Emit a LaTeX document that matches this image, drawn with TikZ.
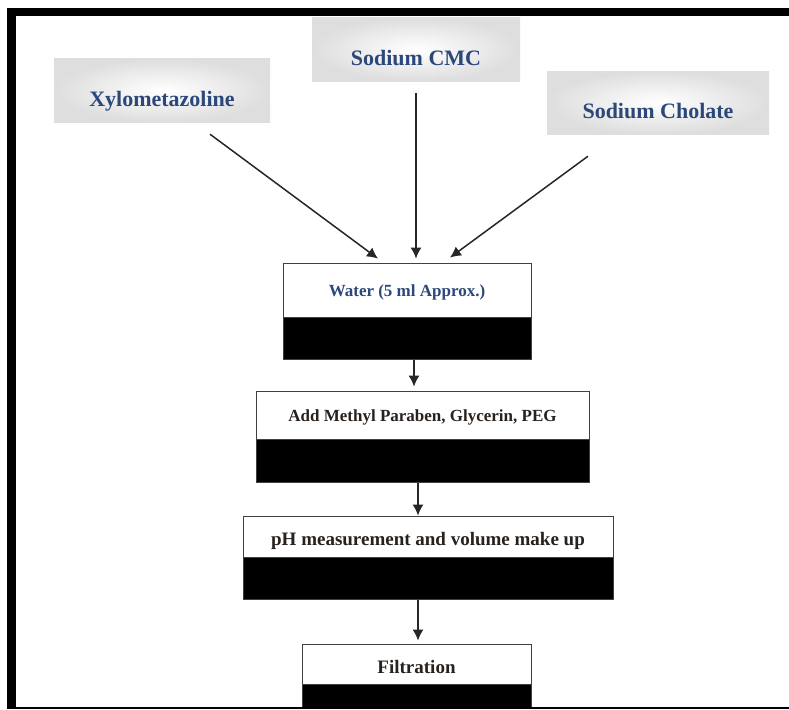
\documentclass[tikz,border=0pt]{standalone}
\usepackage{fontspec}
\setmainfont{Liberation Serif}
\usetikzlibrary{arrows.meta,positioning}
\definecolor{labelblue}{RGB}{44,72,122}
\definecolor{labeldark}{RGB}{40,34,30}

\begin{document}
\begin{tikzpicture}[
    x=1pt, y=-1pt,
    source/.style={shading=radial, inner color=white, outer color=gray!26,
        minimum height=63pt, inner sep=0pt, text height=31pt, text depth=0pt,
        font=\bfseries\fontsize{22}{24}\selectfont, text=labelblue},
    stepbox/.style={draw=black!75, line width=0.8pt, fill=white, inner sep=0pt,
        text height=1.6em, text depth=0.25em,
        font=\bfseries\fontsize{17}{19}\selectfont, text=labeldark},
    bigstep/.style={stepbox, text height=2.1em, font=\bfseries\fontsize{19}{21}\selectfont},
    barbox/.style={draw=black!75, line width=0.8pt, fill=black, inner sep=0pt},
    feed/.style={line width=1.5pt, black!85, -{Latex[length=11pt,width=11pt]}}
]
    % Define page size
    \def\pagewidth{789};
    \def\pageheight{709};
    \useasboundingbox (0,0) rectangle (\pagewidth,\pageheight);

    % Draw the three ingredients
    \node[source, minimum width=216pt] (xylo) at (162,90.5) {Xylometazoline};
    \node[source, minimum width=208pt] (cmc) at (416,49.5) {Sodium CMC};
    \node[source, minimum width=222pt] (cholate) at (658,102.5) {Sodium Cholate};

    % Draw the process steps, each with its black bar
    \node[stepbox, text=labelblue, minimum width=248pt, minimum height=54pt] (water) at (407,290) {Water (5 ml Approx.)};
    \node[barbox, minimum width=248pt, minimum height=42pt, below=0pt of water] (waterbar) {};

    \node[stepbox, minimum width=333pt, minimum height=48pt] (add) at (422.5,415) {Add Methyl Paraben, Glycerin, PEG};
    \node[barbox, minimum width=333pt, minimum height=43pt, below=0pt of add] (addbar) {};

    \node[bigstep, minimum width=370pt, minimum height=41pt] (ph) at (428,536.5) {pH measurement and volume make up};
    \node[barbox, minimum width=370pt, minimum height=42pt, below=0pt of ph] (phbar) {};

    \node[bigstep, minimum width=229pt, minimum height=40pt] (filt) at (416.5,664) {Filtration};
    \node[barbox, minimum width=229pt, minimum height=23pt, below=0pt of filt] (filtbar) {};

    % Arrows into the water
    \draw[feed] ([xshift=48pt,yshift=-12pt]xylo.south) -- ([xshift=-29pt,yshift=4pt]water.north);
    \draw[feed] ([yshift=-12pt]cmc.south) -- ([xshift=9pt,yshift=4pt]water.north);
    \draw[feed] ([xshift=-70pt,yshift=-22pt]cholate.south) -- ([xshift=43pt,yshift=5pt]water.north);

    % Arrows down the steps
    \foreach \a/\b/\sa/\sb/\gap in {waterbar/add/7/-8.5/4, addbar/ph/-4.5/-10/0, phbar/filt/-10/1.5/3} {
        \draw[feed] ([xshift=\sa pt]\a.south) -- ([xshift=\sb pt,yshift=\gap pt]\b.north);
    }

    % Frame round the page
    \fill (7,8) rectangle (\pagewidth,16);
    \fill (7,8) rectangle (16,\pageheight);
    \fill (7,707) rectangle (\pagewidth,\pageheight);
\end{tikzpicture}
\end{document}
